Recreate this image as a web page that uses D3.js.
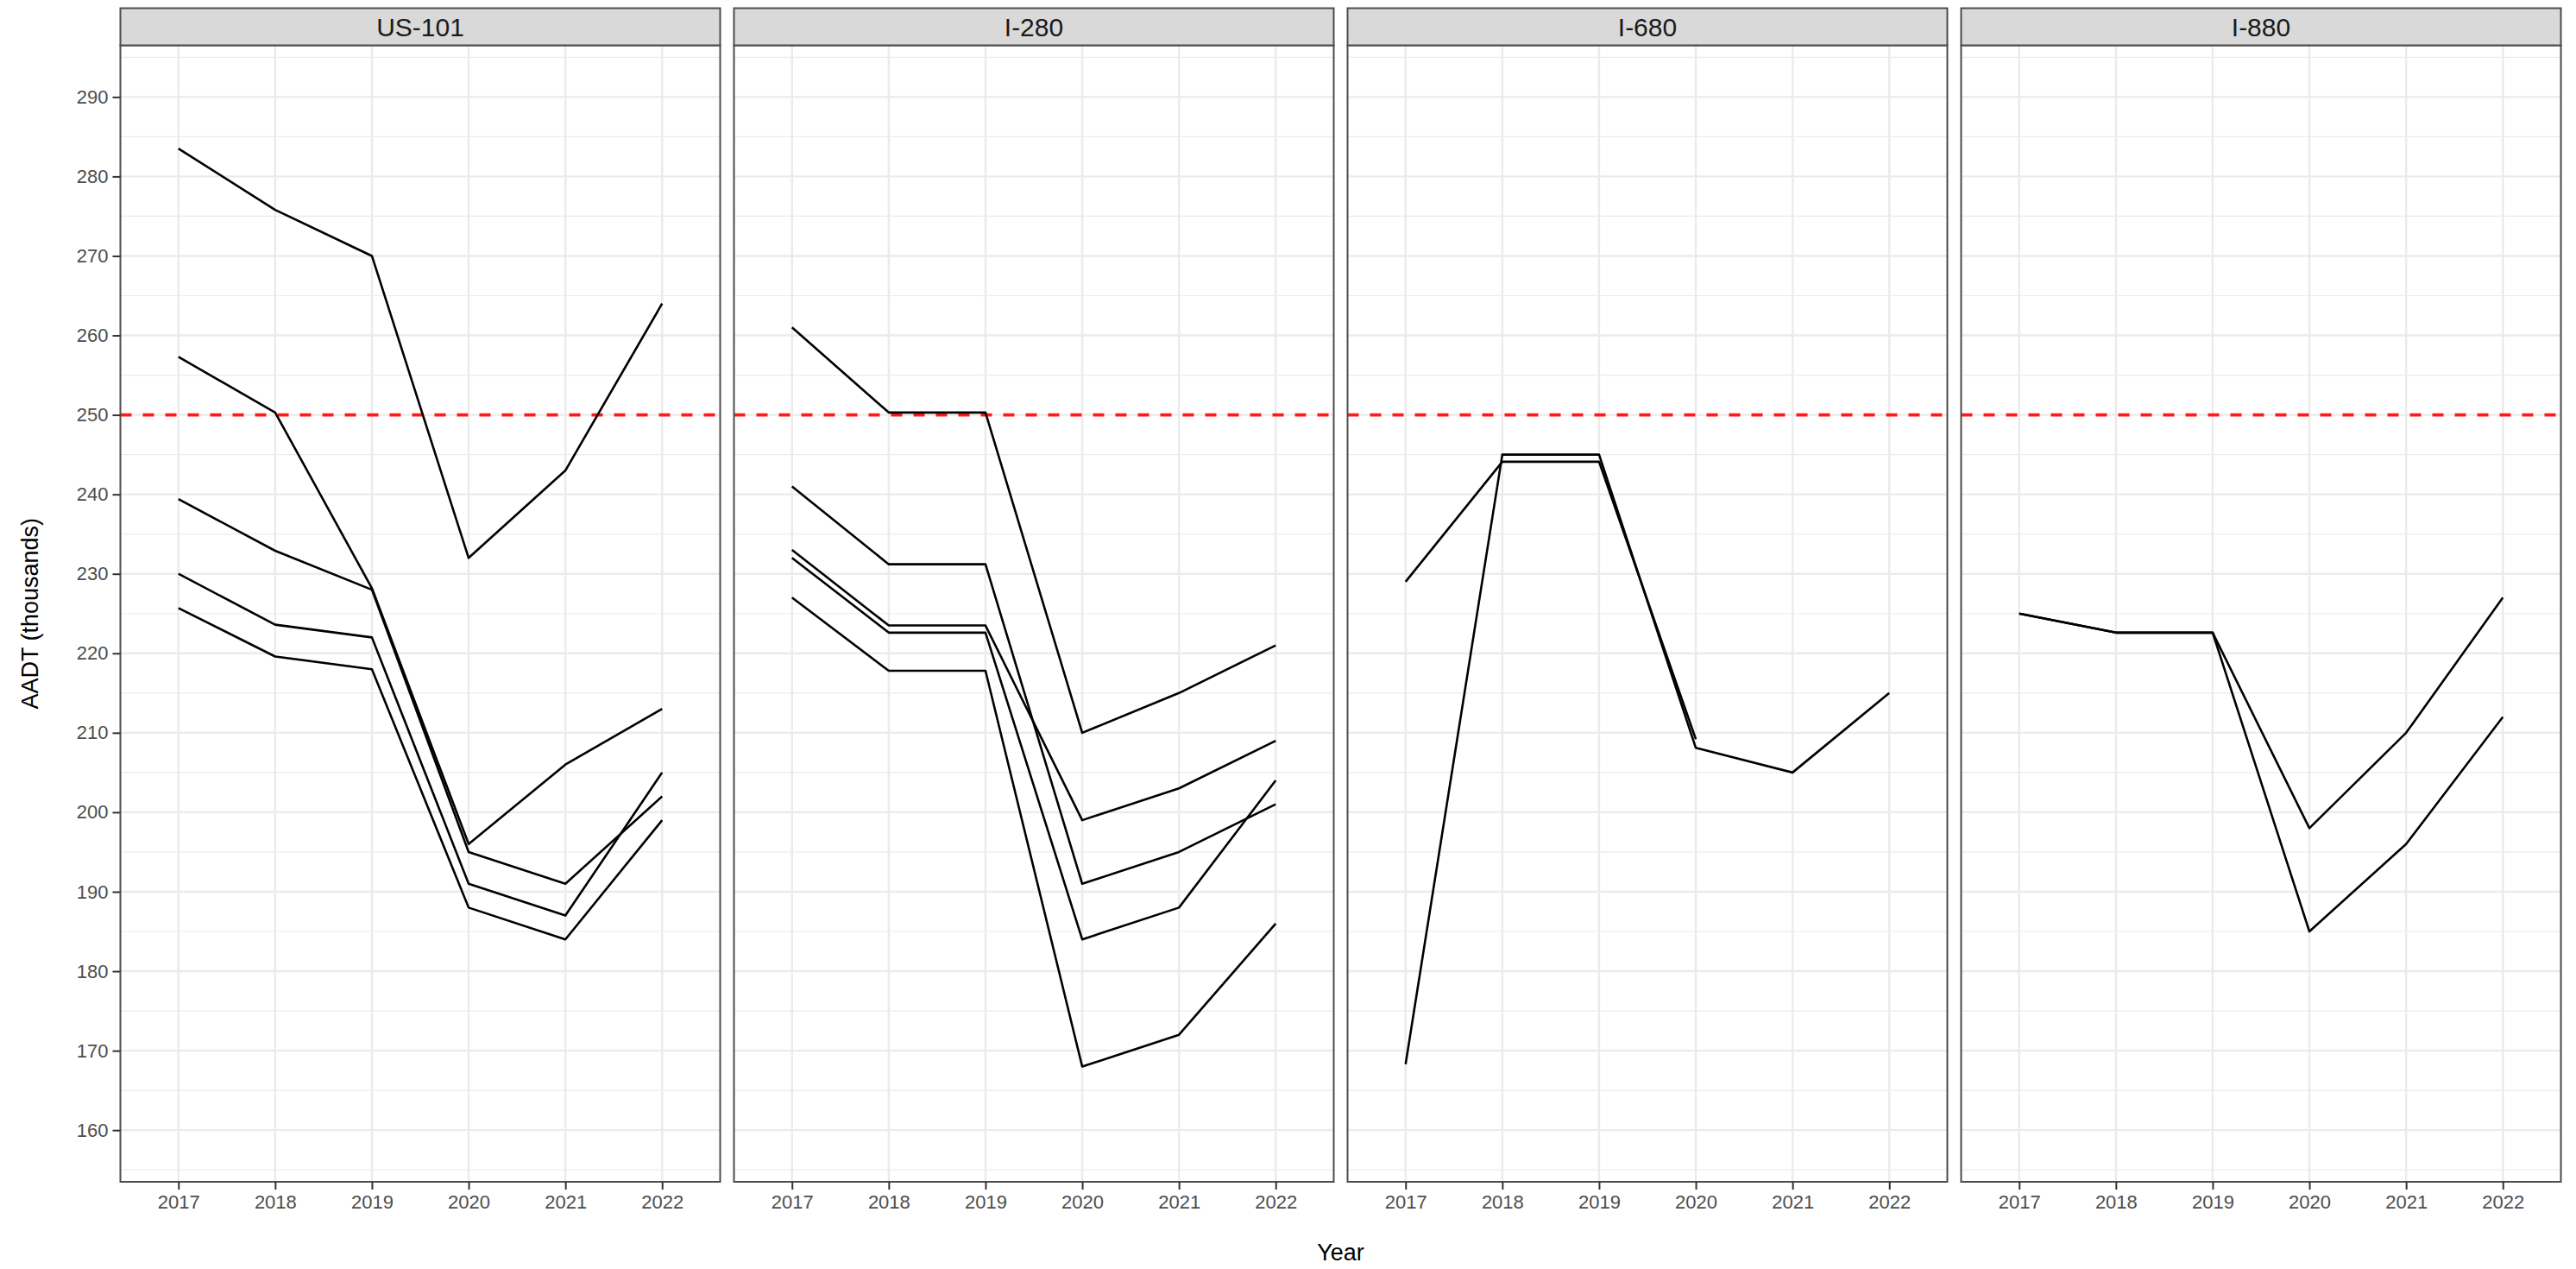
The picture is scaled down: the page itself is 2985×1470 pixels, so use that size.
<!DOCTYPE html>
<html>
<head>
<meta charset="utf-8">
<script src="https://cdn.jsdelivr.net/npm/d3@7"></script>
<style>
  html, body { margin: 0; padding: 0; background: #ffffff; }
  svg { display: block; font-family: "Liberation Sans", Arial, Helvetica, sans-serif; }
</style>
</head>
<body>
<svg id="chart" width="2985" height="1470"></svg>
<script>
// ---------------- data ----------------
const years = ["2017", "2018", "2019", "2020", "2021", "2022"];
const routes = ["US-101", "I-280", "I-680", "I-880"];
const yTicks = [160, 170, 180, 190, 200, 210, 220, 230, 240, 250, 260, 270, 280, 290];
const yMinorTicks = [155, 165, 175, 185, 195, 205, 215, 225, 235, 245, 255, 265, 275, 285, 295];
const yLimits = [160, 290];
const threshold = 250;

// AADT (thousands), one row per count location, values by year
const us101 = [
  [283.5, 275.8, 270.0, 232.0, 243.0, 264.0],
  [257.3, 250.3, 228.2, 196.0, 206.0, 213.0],
  [239.4, 232.9, 228.0, 195.0, 191.0, 202.0],
  [230.0, 223.6, 222.0, 191.0, 187.0, 205.0],
  [225.7, 219.6, 218.0, 188.0, 184.0, 199.0]
];
const i280 = [
  [261.0, 250.3, 250.3, 210.0, 215.0, 221.0],
  [241.0, 231.2, 231.2, 191.0, 195.0, 201.0],
  [233.0, 223.5, 223.5, 199.0, 203.0, 209.0],
  [232.0, 222.6, 222.6, 184.0, 188.0, 204.0],
  [227.0, 217.8, 217.8, 168.0, 172.0, 186.0]
];
const i680 = [
  [229.0, 244.1, 244.1, 209.2, null, null],
  [168.3, 245.0, 245.0, 208.1, 205.0, 215.0]
];
const i880 = [
  [225.0, 222.6, 222.6, 198.0, 210.0, 227.0],
  [225.0, 222.6, 222.6, 185.0, 196.0, 212.0]
];
const seriesByRoute = [us101, i280, i680, i880];

const xTitle = "Year";
const yTitle = "AADT (thousands)";

// ---------------- layout ----------------
const panelLeft0 = 139.5, panelW = 695, panelGap = 16;
const stripTop = 9.5, stripBottom = 52.5, panelBottom = 1369;

const svg = d3.select("#chart");

// y scale with ggplot-style 5% expansion
const yPad = (yLimits[1] - yLimits[0]) * 0.05;
const y = d3.scaleLinear()
  .domain([yLimits[0] - yPad, yLimits[1] + yPad])
  .range([panelBottom, stripBottom]);

const gridColor = "#EBEBEB";
const borderColor = "#4d4d4d";
const tickColor = "#333333";
const labelColor = "#4D4D4D";

routes.forEach((route, i) => {
  const left = panelLeft0 + i * (panelW + panelGap);
  const x = d3.scalePoint().domain(years).range([left, left + panelW]).padding(0.6);
  const g = svg.append("g");

  // panel background
  g.append("rect").attr("x", left).attr("y", stripBottom)
    .attr("width", panelW).attr("height", panelBottom - stripBottom).attr("fill", "#ffffff");

  // minor grid
  g.selectAll(".minor").data(yMinorTicks).join("line")
    .attr("x1", left).attr("x2", left + panelW)
    .attr("y1", d => y(d)).attr("y2", d => y(d))
    .attr("stroke", gridColor).attr("stroke-width", 1.2);
  // major grid (horizontal)
  g.selectAll(".major").data(yTicks).join("line")
    .attr("x1", left).attr("x2", left + panelW)
    .attr("y1", d => y(d)).attr("y2", d => y(d))
    .attr("stroke", gridColor).attr("stroke-width", 2.4);
  // major grid (vertical)
  g.selectAll(".vmajor").data(years).join("line")
    .attr("x1", d => x(d)).attr("x2", d => x(d))
    .attr("y1", stripBottom).attr("y2", panelBottom)
    .attr("stroke", gridColor).attr("stroke-width", 2.4);

  // threshold line
  g.append("line")
    .attr("x1", left).attr("x2", left + panelW)
    .attr("y1", y(threshold)).attr("y2", y(threshold))
    .attr("stroke", "#FF1A1A").attr("stroke-width", 3.6)
    .attr("stroke-dasharray", "13,13");

  // data lines
  const line = d3.line()
    .defined(d => d != null)
    .x((d, j) => x(years[j]))
    .y(d => y(d));
  g.selectAll(".series").data(seriesByRoute[i]).join("path")
    .attr("d", d => line(d))
    .attr("fill", "none").attr("stroke", "#000000")
    .attr("stroke-width", 2.6).attr("stroke-linejoin", "round").attr("stroke-linecap", "butt");

  // panel border
  g.append("rect").attr("x", left).attr("y", stripBottom)
    .attr("width", panelW).attr("height", panelBottom - stripBottom)
    .attr("fill", "none").attr("stroke", borderColor).attr("stroke-width", 2);

  // strip
  g.append("rect").attr("x", left).attr("y", stripTop)
    .attr("width", panelW).attr("height", stripBottom - stripTop)
    .attr("fill", "#D9D9D9").attr("stroke", borderColor).attr("stroke-width", 2);
  g.append("text")
    .attr("x", left + panelW / 2).attr("y", (stripTop + stripBottom) / 2)
    .attr("text-anchor", "middle").attr("dominant-baseline", "central")
    .attr("font-size", 30).attr("fill", "#1A1A1A")
    .text(route);

  // x axis ticks + labels
  const xAxis = d3.axisBottom(x).tickSize(9).tickPadding(6);
  const ax = g.append("g").attr("transform", `translate(0,${panelBottom})`).call(xAxis);
  ax.select(".domain").remove();
  ax.selectAll(".tick line").attr("stroke", tickColor).attr("stroke-width", 2);
  ax.selectAll(".tick text").attr("font-size", 22).attr("fill", labelColor)
    .attr("font-family", "Liberation Sans, Arial, sans-serif");

  // y axis on first panel only
  if (i === 0) {
    const yAxis = d3.axisLeft(y).tickValues(yTicks).tickSize(9).tickPadding(5);
    const ay = g.append("g").attr("transform", `translate(${left},0)`).call(yAxis);
    ay.select(".domain").remove();
    ay.selectAll(".tick line").attr("stroke", tickColor).attr("stroke-width", 2);
    ay.selectAll(".tick text").attr("font-size", 22).attr("fill", labelColor)
      .attr("font-family", "Liberation Sans, Arial, sans-serif");
  }
});

// axis titles
const plotLeft = panelLeft0;
const plotRight = panelLeft0 + routes.length * panelW + (routes.length - 1) * panelGap;
svg.append("text")
  .attr("x", (plotLeft + plotRight) / 2).attr("y", 1451)
  .attr("text-anchor", "middle").attr("dominant-baseline", "central")
  .attr("font-size", 27).attr("fill", "#000000")
  .text(xTitle);
svg.append("text")
  .attr("transform", `translate(35,${(stripBottom + panelBottom) / 2}) rotate(-90)`)
  .attr("text-anchor", "middle").attr("dominant-baseline", "central")
  .attr("font-size", 27).attr("fill", "#000000")
  .text(yTitle);
</script>
</body>
</html>
